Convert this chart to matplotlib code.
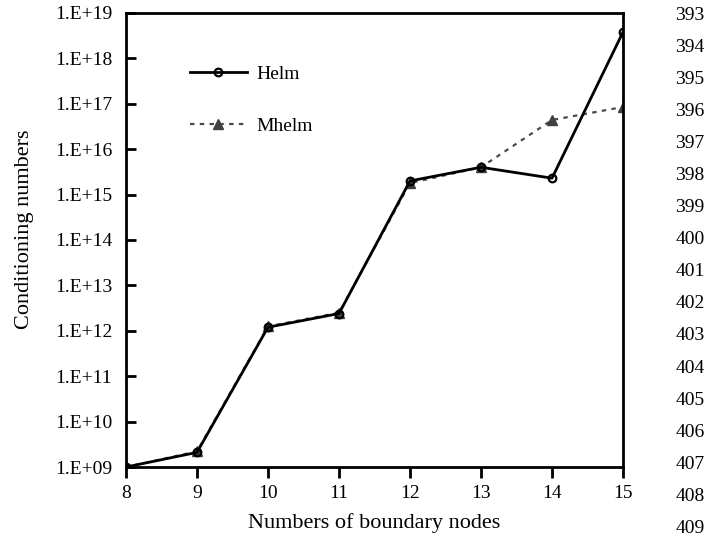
import matplotlib
matplotlib.use("Agg")
import matplotlib.pyplot as plt
from matplotlib.ticker import FixedLocator, NullLocator

plt.rcParams['font.family'] = ['Liberation Serif', 'DejaVu Serif']

nodes = [8, 9, 10, 11, 12, 13, 14, 15]
helm = [1.0e9, 2.1e9, 1.2e12, 2.4e12, 2.0e15, 4.0e15, 2.3e15, 3.8e18]
mhelm = [1.0e9, 2.2e9, 1.25e12, 2.5e12, 1.8e15, 4.0e15, 4.4e16, 8.5e16]
ytick_vals = [10.0 ** k for k in range(9, 20)]
ytick_labels = ["1.E+%02d" % k for k in range(9, 20)]
line_numbers = list(range(393, 410))

FS_TICK = 14
FS_LABEL = 16

fig = plt.figure(figsize=(7.17, 5.38), dpi=100)
ax = fig.add_axes([126 / 717, 1 - 467 / 538, (623 - 126) / 717, (467 - 13) / 538])

ax.plot(nodes, mhelm, color='#4a4a4a', linestyle=(0, (2.0, 2.4)), linewidth=1.6,
        marker='^', markersize=7, markerfacecolor='#404040', markeredgecolor='#404040',
        label='Mhelm', zorder=2)
ax.plot(nodes, helm, color='black', linewidth=2.0, marker='o', markersize=5.5,
        markerfacecolor='none', markeredgecolor='black', markeredgewidth=1.6,
        label='Helm', zorder=3)

ax.set_yscale('log')
ax.set_ylim(1e9, 1e19)
ax.set_xlim(8, 15)
ax.yaxis.set_major_locator(FixedLocator(ytick_vals))
ax.set_yticklabels(ytick_labels)
ax.yaxis.set_minor_locator(NullLocator())
ax.set_xticks(nodes)
ax.set_xticklabels([str(n) for n in nodes])

for s in ax.spines.values():
    s.set_linewidth(2.0)
ax.tick_params(axis='y', direction='in', length=7, width=2, labelsize=FS_TICK, pad=10)
ax.tick_params(axis='x', direction='out', length=8, width=2, labelsize=FS_TICK, pad=5)

ax.set_xlabel('Numbers of boundary nodes', fontsize=FS_LABEL, labelpad=8)
ax.set_ylabel('Conditioning numbers', fontsize=FS_LABEL)
ax.yaxis.set_label_coords(-0.185, 0.524)

h, l = ax.get_legend_handles_labels()
leg = ax.legend(h[::-1], l[::-1], loc='upper left', bbox_to_anchor=(0.128, 0.885),
                frameon=False, fontsize=FS_TICK, handlelength=2.94, handletextpad=0.5,
                labelspacing=1.76, borderpad=0, borderaxespad=0)

for i, n in enumerate(line_numbers):
    fig.text(690 / 717, 1 - (15 + i * 32.1) / 538, str(n), fontsize=FS_TICK,
             ha='center', va='center')

fig.savefig('out.png', dpi=100)
